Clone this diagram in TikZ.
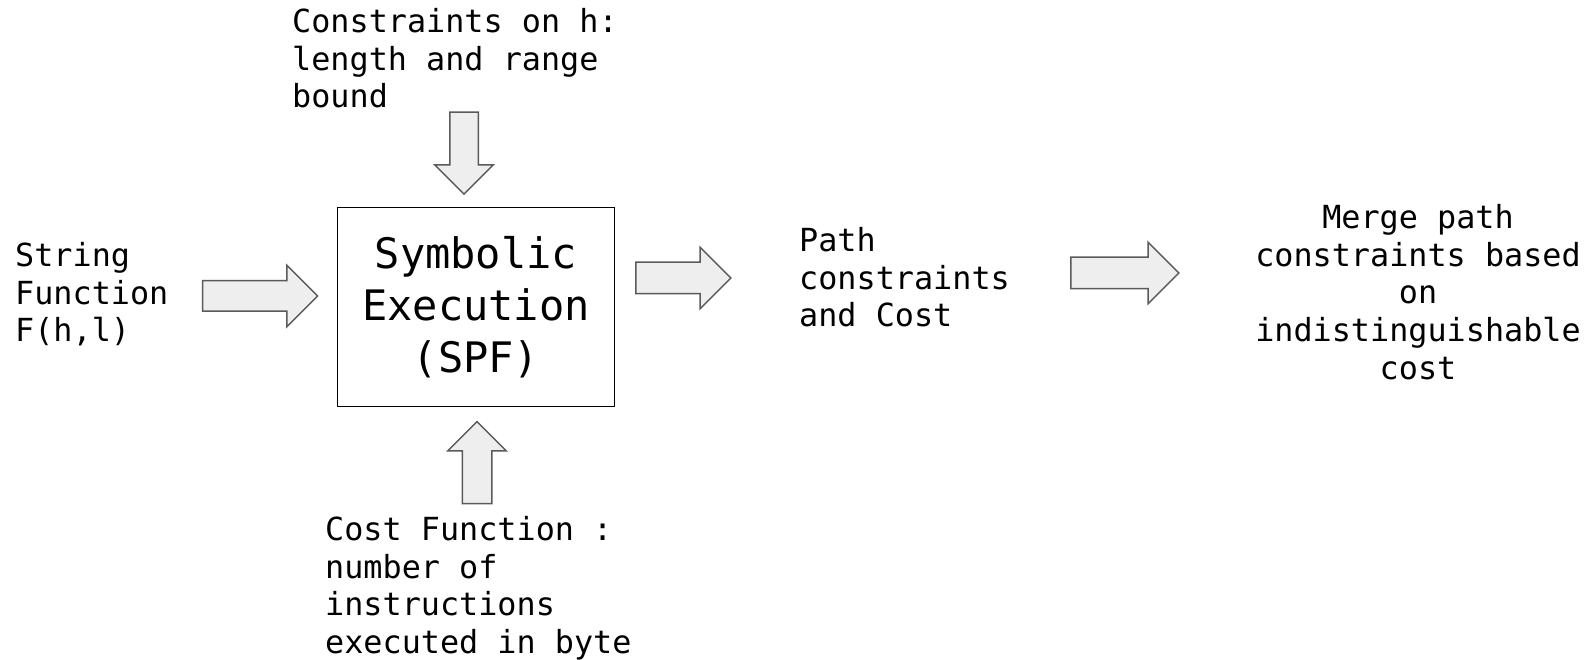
\documentclass[tikz,border=0pt]{standalone}
\usepackage{fontspec}
\setmonofont{DejaVu Sans Mono}
\usepackage{xcolor}
\usepackage{tikz}
\usetikzlibrary{shapes,arrows,positioning,calc}
\definecolor{arrfill}{RGB}{238,238,238}
\definecolor{arrline}{RGB}{90,90,90}

\begin{document}
\begin{tikzpicture}[x=1pt, y=-1pt,
    lbl/.style={inner sep=0pt, font=\ttfamily\fontsize{31.8}{37.8}\selectfont},
    block/.style={rectangle, draw=black, line width=1.8pt, minimum width=277pt, minimum height=199pt, align=center, font=\ttfamily\fontsize{42}{52}\selectfont},
    fatarrow/.style={single arrow, draw=arrline, fill=arrfill, line width=1.5pt, inner xsep=0pt, inner ysep=14.5pt, single arrow head extend=15.5pt, single arrow tip angle=90},
    vfatarrow/.style={fatarrow, inner xsep=13.5pt, inner ysep=0pt}]
  \useasboundingbox (0,0) rectangle (1596,660);
  \node[block] (spf) at (476,307) {Symbolic\\Execution\\(SPF)};
  \node[lbl, anchor=north west, align=left] (hcons) at (292,8) {Constraints on h:\\length and range\\bound};
  \node[lbl, anchor=north west, align=left] (func) at (15,242) {String\\Function\\F(h,l)};
  \node[lbl, anchor=north west, align=left] (path) at (799,227) {Path\\constraints\\and Cost};
  \node[lbl, anchor=north, align=center] (merge) at (1418,204) {Merge path\\constraints based\\on\\indistinguishable\\cost};
  \node[lbl, anchor=north west, align=left] (cost) at (325,516) {Cost Function :\\number of\\instructions\\executed in byte};
  % block arrows
  \node[fatarrow, minimum height=115pt] (funcArr) at (252.5,296) {};
  \node[vfatarrow, minimum height=82pt, single arrow head extend=15pt, shape border rotate=270] (hArr) at (464,146) {};
  \node[vfatarrow, minimum height=82pt, inner xsep=14pt, single arrow head extend=14.5pt, shape border rotate=90] (costArr) at (477,470) {};
  \node[fatarrow, minimum height=95pt, inner ysep=15pt, single arrow head extend=15pt] (pathArr) at (675.5,278) {};
  \node[fatarrow, minimum height=108pt, inner ysep=15pt, single arrow head extend=15pt] (mergeArr) at (1117,273) {};
\end{tikzpicture}
\end{document}
